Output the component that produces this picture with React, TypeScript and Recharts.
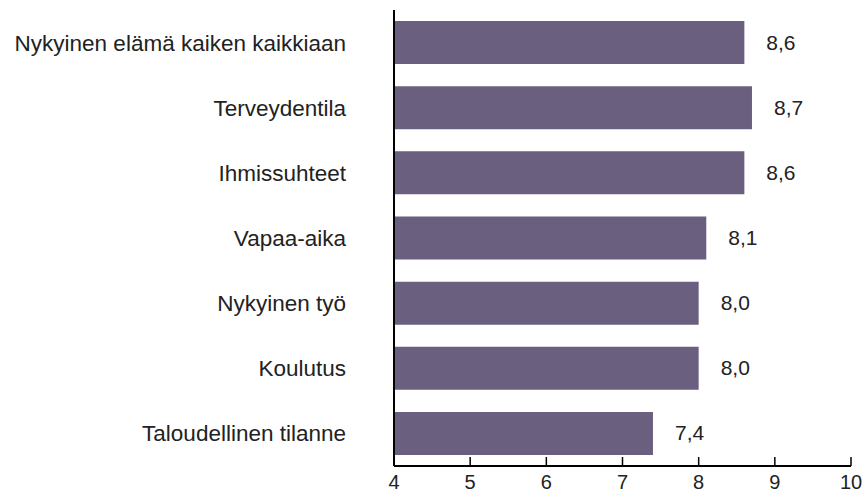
import { BarChart, Bar, XAxis, YAxis, LabelList } from "recharts";

const categories = [
  "Nykyinen elämä kaiken kaikkiaan",
  "Terveydentila",
  "Ihmissuhteet",
  "Vapaa-aika",
  "Nykyinen työ",
  "Koulutus",
  "Taloudellinen tilanne",
];
const scores = [8.6, 8.7, 8.6, 8.1, 8.0, 8.0, 7.4];
const xTicks = [4, 5, 6, 7, 8, 9, 10];

const data = categories.map((name, i) => ({ name, score: scores[i] }));

const FONT = "Liberation Sans, Arial, sans-serif";

// tick marks point up into the plot, numbers sit below the axis line
const XTick = (props: any) => {
  const { x, y, payload } = props;
  const axisY = y - 6;
  return (
    <g>
      {payload.value !== 4 && (
        <line x1={x} x2={x} y1={axisY} y2={axisY - 9} stroke="#000" strokeWidth={1.5} />
      )}
      <text x={x} y={y} dy={17} textAnchor="middle" fontSize={20} fill="#222" fontFamily={FONT}>
        {payload.value}
      </text>
    </g>
  );
};

const ValueLabel = (props: any) => {
  const { x, y, width, height, value } = props;
  return (
    <text
      x={x + width + 22}
      y={y + height / 2}
      dy={7}
      fontSize={21}
      fill="#222"
      fontFamily={FONT}
    >
      {value.toFixed(1).replace(".", ",")}
    </text>
  );
};

export default function App() {
  return (
    <div style={{ position: "absolute", left: 0, top: 0, background: "#fff", width: 864, height: 493 }}>
      <BarChart
        width={864}
        height={493}
        data={data}
        layout="vertical"
        margin={{ top: 10, right: 13, bottom: 0, left: 0 }}
        barCategoryGap="17%"
      >
        <XAxis
          type="number"
          domain={[4, 10]}
          ticks={xTicks}
          allowDataOverflow
          height={27}
          tickLine={false}
          tickSize={0}
          tickMargin={6}
          axisLine={{ stroke: "#000", strokeWidth: 2 }}
          tick={<XTick />}
        />
        <YAxis
          type="category"
          dataKey="name"
          width={394}
          tickLine={false}
          tickMargin={42}
          axisLine={{ stroke: "#000", strokeWidth: 2 }}
          tick={{ fontSize: 22.5, fill: "#222", fontFamily: FONT }}
          interval={0}
        />
        <Bar dataKey="score" fill="#6b5f7f" isAnimationActive={false}>
          <LabelList dataKey="score" content={<ValueLabel />} />
        </Bar>
      </BarChart>
    </div>
  );
}
